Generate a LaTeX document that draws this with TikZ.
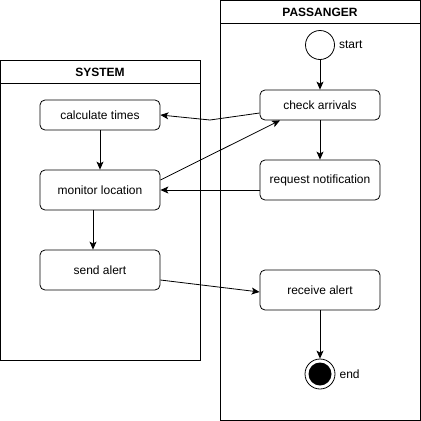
\documentclass[tikz,border=0pt]{standalone}
\usepackage{fontspec}
\setmainfont{Liberation Sans}
\usetikzlibrary{arrows.meta}

\begin{document}
\begin{tikzpicture}[x=1pt,y=-1pt,
  lane/.style={draw,line width=0.8pt},
  act/.style={draw,rounded corners=5pt,minimum width=120pt,inner sep=0pt,
    line width=0.8pt,font=\fontsize{12}{14}\selectfont},
  flow/.style={line width=0.8pt,-{Stealth[length=8pt,width=7pt,inset=2pt]}},
  txt/.style={font=\fontsize{12}{14}\selectfont},
  ]
\useasboundingbox (0,0) rectangle (421,421);
% lanes
\draw[lane] (0.5,60) rectangle (200,360);
\draw[lane] (0.5,83) -- (200,83);
\node[txt,font=\fontsize{12}{14}\selectfont\bfseries] (system) at (100,72) {SYSTEM};
\draw[lane] (220,0.5) rectangle (420,420);
\draw[lane] (220,23) -- (420,23);
\node[txt,font=\fontsize{12}{14}\selectfont\bfseries] (passanger) at (320,12) {PASSANGER};
% passanger actions
\node[draw,circle,minimum size=29pt,inner sep=0pt,line width=0.8pt] (start) at (320,45) {};
\node[txt,anchor=west,inner sep=0pt] (startlbl) at ([xshift=4pt]start.east) {start};
\node[act,minimum height=30pt] (check) at (320,105) {check arrivals};
\node[act,minimum height=40pt] (request) at (320,180) {request notification};
\node[act,minimum height=40pt] (receive) at (320,290) {receive alert};
\node[draw,circle,minimum size=30pt,inner sep=0pt,line width=0.8pt] (end) at (320,374) {};
\fill (end) circle (11.5pt);
\node[txt,anchor=west,inner sep=0pt] (endlbl) at ([xshift=4pt]end.east) {end};
% system actions
\node[act,minimum height=30pt] (calc) at (100,115) {calculate times};
\node[act,minimum height=40pt] (monitor) at (100,190) {monitor location};
\node[act,minimum height=40pt] (send) at (100,270) {send alert};
% flows
\draw[flow] (start) -- (check);
\draw[flow] (check) -- (request);
\draw[flow] (receive) -- (end);
\draw[flow] (calc) -- (monitor);
\draw[flow] (93,0 |- monitor.south) -- (93,0 |- send.north);
\draw[flow] (check.west |- 0,113) -- (210,120) -- (calc.east);
\draw[flow] (monitor.east |- 0,180) -- (280,0 |- check.south);
\draw[flow] (request.west |- 0,190) -- (monitor.east |- 0,190);
\draw[flow] (send.east |- 0,280) -- (receive.west |- 0,292);
\end{tikzpicture}
\end{document}
